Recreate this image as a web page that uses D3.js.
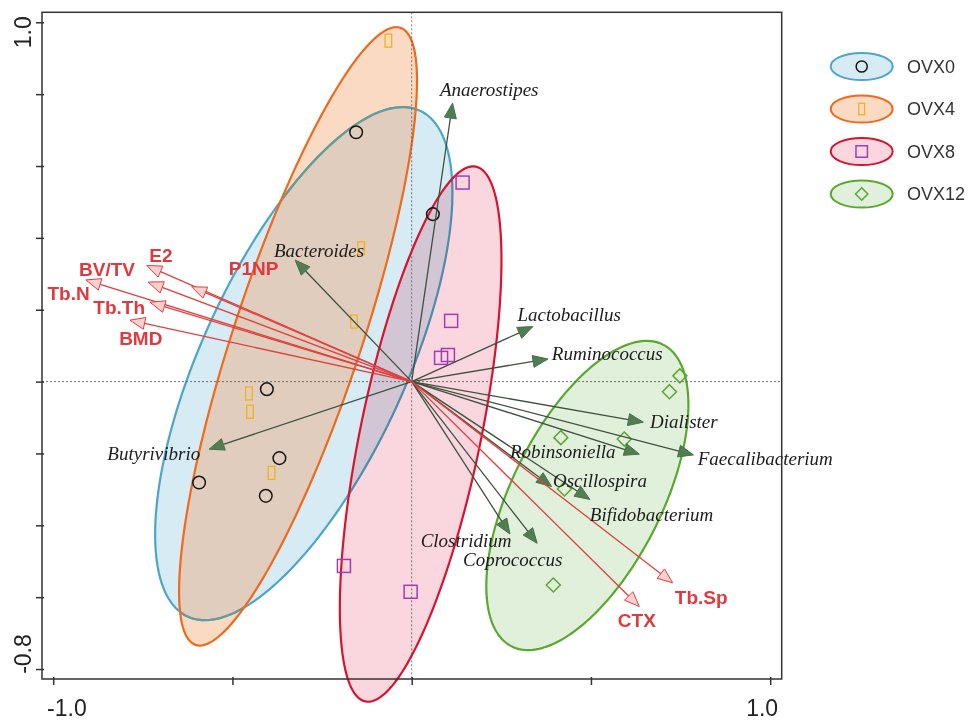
<!DOCTYPE html>
<html>
<head>
<meta charset="utf-8">
<script src="https://cdn.jsdelivr.net/npm/d3@7"></script>
<style>
  body { margin: 0; background: #fff; }
</style>
</head>
<body>
<svg id="chart" width="969" height="721"></svg>
<script>
// ---- sample scores (axis 1, axis 2) per group ----
const ovx0  = [[-0.155, 0.694], [0.059, 0.466], [-0.404, -0.021], [-0.369, -0.213], [-0.593, -0.281], [-0.407, -0.318]];
const ovx4  = [[-0.065, 0.949], [-0.141, 0.371], [-0.161, 0.167], [-0.454, -0.033], [-0.451, -0.084], [-0.391, -0.254]];
const ovx8  = [[0.142, 0.554], [0.110, 0.169], [0.082, 0.066], [0.101, 0.074], [-0.189, -0.513], [-0.003, -0.585]];
const ovx12 = [[0.748, 0.016], [0.719, -0.028], [0.416, -0.156], [0.593, -0.160], [0.426, -0.299], [0.395, -0.566]];
const groupNames = ["OVX0", "OVX4", "OVX8", "OVX12"];

// ---- group confidence ellipses: centre, semi-axes, rotation (deg) ----
const ellipseCx    = [-0.301, -0.317, 0.025, 0.490];
const ellipseCy    = [0.050, 0.126, -0.146, -0.317];
const ellipseA     = [0.775, 0.905, 0.760, 0.470];
const ellipseB     = [0.285, 0.178, 0.168, 0.209];
const ellipseAngle = [65.3, 71.6, 78.3, 63.3];

// ---- genus vectors ----
const taxaNames  = ["Anaerostipes", "Bacteroides", "Lactobacillus", "Ruminococcus", "Dialister", "Faecalibacterium",
                    "Robinsoniella", "Oscillospira", "Bifidobacterium", "Clostridium", "Coprococcus", "Butyrivibrio"];
const taxaX      = [0.114, -0.325, 0.338, 0.380, 0.646, 0.786, 0.635, 0.390, 0.497, 0.274, 0.350, -0.565];
const taxaY      = [0.775, 0.338, 0.153, 0.063, -0.113, -0.204, -0.202, -0.292, -0.328, -0.424, -0.450, -0.188];
const taxaLabelX = [0.079, -0.384, 0.295, 0.391, 0.665, 0.798, 0.274, 0.394, 0.497, 0.025, 0.143, -0.849];
const taxaLabelY = [0.812, 0.366, 0.188, 0.078, -0.110, -0.215, -0.195, -0.276, -0.371, -0.441, -0.495, -0.201];

// ---- bone / hormone vectors ----
const envNames  = ["E2", "P1NP", "BV/TV", "Tb.N", "Tb.Th", "BMD", "CTX", "Tb.Sp"];
const envX      = [-0.739, -0.614, -0.735, -0.909, -0.730, -0.786, 0.635, 0.728];
const envY      = [0.323, 0.264, 0.277, 0.283, 0.221, 0.171, -0.626, -0.560];
const envLabelX = [-0.732, -0.510, -0.928, -1.016, -0.888, -0.816, 0.575, 0.734];
const envLabelY = [0.352, 0.315, 0.313, 0.245, 0.205, 0.121, -0.664, -0.600];

// ---- axes ----
const xLimits = [-1.0312, 1.0321];
const yLimits = [-0.8277, 1.0278];
const xTicks = [-1.0, -0.5, 0, 0.5, 1.0];
const yTicks = [1.0, 0.8, 0.6, 0.4, 0.2, 0, -0.2, -0.4, -0.6, -0.8];
const xTickLabels = ["-1.0", "1.0"];
const yTickLabels = ["1.0", "-0.8"];

// ---- drawing ----
const W = 969, H = 721;
const margin = { left: 42, top: 12.3, right: 187.3, bottom: 42 };
const svg = d3.select("#chart");
const x = d3.scaleLinear().domain(xLimits).range([margin.left, W - margin.right]);
const y = d3.scaleLinear().domain(yLimits).range([H - margin.bottom, margin.top]);

// fill: colour painted in the plot; legendFill: resulting tint on white
const styles = {
  OVX0:  { stroke: "#4da6c6", fill: "#d7ebf5", opacity: 1,    blend: "normal",   legendFill: "#d7ebf5", mark: "#151515" },
  OVX4:  { stroke: "#ee6a1c", fill: "#f19b5d", opacity: 0.37, blend: "normal",   legendFill: "#fadac3", mark: "#f2b21c" },
  OVX8:  { stroke: "#d7132f", fill: "#fad7de", opacity: 1,    blend: "multiply", legendFill: "#fad7de", mark: "#a43bb5" },
  OVX12: { stroke: "#5aa830", fill: "#e1f0da", opacity: 1,    blend: "normal",   legendFill: "#e1f0da", mark: "#5aa830" }
};
const groupPoints = { OVX0: ovx0, OVX4: ovx4, OVX8: ovx8, OVX12: ovx12 };

// ellipse outline in data space, mapped through the scales
function ellipsePath(i) {
  const th = ellipseAngle[i] * Math.PI / 180;
  const pts = d3.range(0, 181).map(k => {
    const t = k / 180 * 2 * Math.PI;
    const ex = ellipseA[i] * Math.cos(t), ey = ellipseB[i] * Math.sin(t);
    return [ellipseCx[i] + ex * Math.cos(th) - ey * Math.sin(th),
            ellipseCy[i] + ex * Math.sin(th) + ey * Math.cos(th)];
  });
  return d3.line().x(d => x(d[0])).y(d => y(d[1])).curve(d3.curveLinearClosed)(pts);
}

const paths = groupNames.map((n, i) => ellipsePath(i));
svg.append("defs").append("clipPath").attr("id", "clip-ovx4")
  .append("path").attr("d", paths[1]);

const ellG = svg.append("g");
[0, 1, 2, 3].forEach(i => {
  const s = styles[groupNames[i]];
  ellG.append("path").attr("d", paths[i]).attr("fill", s.fill).attr("fill-opacity", s.opacity)
    .style("mix-blend-mode", s.blend);
  if (i === 1) {
    // OVX0 outline seen through the OVX4 tint
    ellG.append("path").attr("d", paths[0]).attr("fill", "none")
      .attr("stroke", "#639d9b").attr("stroke-width", 2.2).attr("clip-path", "url(#clip-ovx4)");
  }
  ellG.append("path").attr("d", paths[i]).attr("fill", "none").attr("stroke", s.stroke).attr("stroke-width", 2.2);
});

// zero reference lines
svg.append("line").attr("x1", x(0)).attr("x2", x(0)).attr("y1", y(yLimits[1])).attr("y2", y(yLimits[0]))
  .attr("stroke", "#555").attr("stroke-width", 0.8).attr("stroke-dasharray", "2,2");
svg.append("line").attr("x1", x(xLimits[0])).attr("x2", x(xLimits[1])).attr("y1", y(0)).attr("y2", y(0))
  .attr("stroke", "#555").attr("stroke-width", 0.8).attr("stroke-dasharray", "2,2");

// sample markers
function drawMarker(g, name, cx, cy, scale) {
  const s = styles[name];
  if (name === "OVX0") {
    g.append("circle").attr("cx", cx).attr("cy", cy).attr("r", 6.3 * scale)
      .attr("fill", "none").attr("stroke", s.mark).attr("stroke-width", 1.5);
  } else if (name === "OVX4") {
    g.append("rect").attr("x", cx - 3.3 * scale).attr("y", cy - 6.5 * scale)
      .attr("width", 6.6 * scale).attr("height", 13 * scale)
      .attr("fill", "none").attr("stroke", s.mark).attr("stroke-width", 1.3);
  } else if (name === "OVX8") {
    g.append("rect").attr("x", cx - 6.5 * scale).attr("y", cy - 6.5 * scale)
      .attr("width", 13 * scale).attr("height", 13 * scale)
      .attr("fill", "none").attr("stroke", s.mark).attr("stroke-width", 1.5);
  } else {
    const r = 7 * scale;
    g.append("path").attr("d", `M${cx},${cy - r}L${cx + r},${cy}L${cx},${cy + r}L${cx - r},${cy}Z`)
      .attr("fill", "none").attr("stroke", s.mark).attr("stroke-width", 1.5);
  }
}
const ptG = svg.append("g");
groupNames.forEach(name => {
  groupPoints[name].forEach(p => drawMarker(ptG, name, x(p[0]), y(p[1]), 1));
});

// vectors with arrowheads
function arrow(g, tx, ty, lineColor, headFill, headStroke) {
  const ox = x(0), oy = y(0);
  const px = x(tx), py = y(ty);
  const dx = px - ox, dy = py - oy, len = Math.hypot(dx, dy);
  const ux = dx / len, uy = dy / len;
  const L = 15, hw = 6;
  const bx = px - ux * L, by = py - uy * L;
  g.append("line").attr("x1", ox).attr("y1", oy).attr("x2", bx).attr("y2", by)
    .attr("stroke", lineColor).attr("stroke-width", 1.3);
  g.append("path")
    .attr("d", `M${px},${py}L${bx - uy * hw},${by + ux * hw}L${bx + uy * hw},${by - ux * hw}Z`)
    .attr("fill", headFill).attr("stroke", headStroke).attr("stroke-width", 1);
}
const arG = svg.append("g");
taxaNames.forEach((n, i) => arrow(arG, taxaX[i], taxaY[i], "#3e5140", "#507d52", "#47704a"));
envNames.forEach((n, i) => arrow(arG, envX[i], envY[i], "#e0403f", "#fbd0cf", "#e0403f"));

// vector labels
const lbG = svg.append("g");
taxaNames.forEach((n, i) => {
  lbG.append("text").attr("x", x(taxaLabelX[i])).attr("y", y(taxaLabelY[i]))
    .attr("dominant-baseline", "central")
    .attr("font-family", "'Liberation Serif', 'Times New Roman', serif")
    .attr("font-style", "italic").attr("font-size", 19).attr("fill", "#1c1c1c").text(n);
});
envNames.forEach((n, i) => {
  lbG.append("text").attr("x", x(envLabelX[i])).attr("y", y(envLabelY[i]))
    .attr("dominant-baseline", "central")
    .attr("font-family", "'Liberation Sans', Arial, sans-serif")
    .attr("font-weight", "bold").attr("font-size", 19).attr("fill", "#e0393e").text(n);
});

// frame and ticks
svg.append("rect").attr("x", x(xLimits[0])).attr("y", y(yLimits[1]))
  .attr("width", x(xLimits[1]) - x(xLimits[0])).attr("height", y(yLimits[0]) - y(yLimits[1]))
  .attr("fill", "none").attr("stroke", "#333").attr("stroke-width", 1.5);

const xAxis = svg.append("g").attr("transform", `translate(0,${y(yLimits[0])})`)
  .call(d3.axisBottom(x).tickValues(xTicks).tickSize(6).tickFormat(""));
xAxis.select(".domain").remove();
xAxis.selectAll(".tick line").attr("y1", -2).attr("stroke", "#333").attr("stroke-width", 1.5);

const yAxis = svg.append("g").attr("transform", `translate(${x(xLimits[0])},0)`)
  .call(d3.axisLeft(y).tickValues(yTicks).tickSize(6).tickFormat(""));
yAxis.select(".domain").remove();
yAxis.selectAll(".tick line").attr("x1", 2).attr("stroke", "#333").attr("stroke-width", 1.5);

const tickFont = "'Liberation Sans', Arial, sans-serif";
const xLabOffset = [13.7, -8];
xTickLabels.forEach((t, i) => {
  svg.append("text").attr("x", x(+t) + xLabOffset[i]).attr("y", 716)
    .attr("text-anchor", "middle").attr("font-family", tickFont).attr("font-size", 23)
    .attr("fill", "#222").text(t);
});
const yLabOffset = [10, -15];
yTickLabels.forEach((t, i) => {
  const cy = y(+t) + yLabOffset[i];
  svg.append("text").attr("transform", `translate(22.5,${cy}) rotate(-90)`)
    .attr("text-anchor", "middle").attr("dominant-baseline", "central")
    .attr("font-family", tickFont).attr("font-size", 23).attr("fill", "#222").text(t);
});

// legend
const lg = svg.append("g");
groupNames.forEach((name, i) => {
  const cy = 66.5 + i * 42.5, cx = 861.7;
  const s = styles[name];
  lg.append("ellipse").attr("cx", cx).attr("cy", cy).attr("rx", 31).attr("ry", 13.5)
    .attr("fill", s.legendFill).attr("stroke", s.stroke).attr("stroke-width", 2);
  drawMarker(lg, name, cx, cy, 0.88);
  lg.append("text").attr("x", 907).attr("y", cy).attr("dominant-baseline", "central")
    .attr("font-family", tickFont).attr("font-size", 18).attr("fill", "#333").text(name);
});
</script>
</body>
</html>
